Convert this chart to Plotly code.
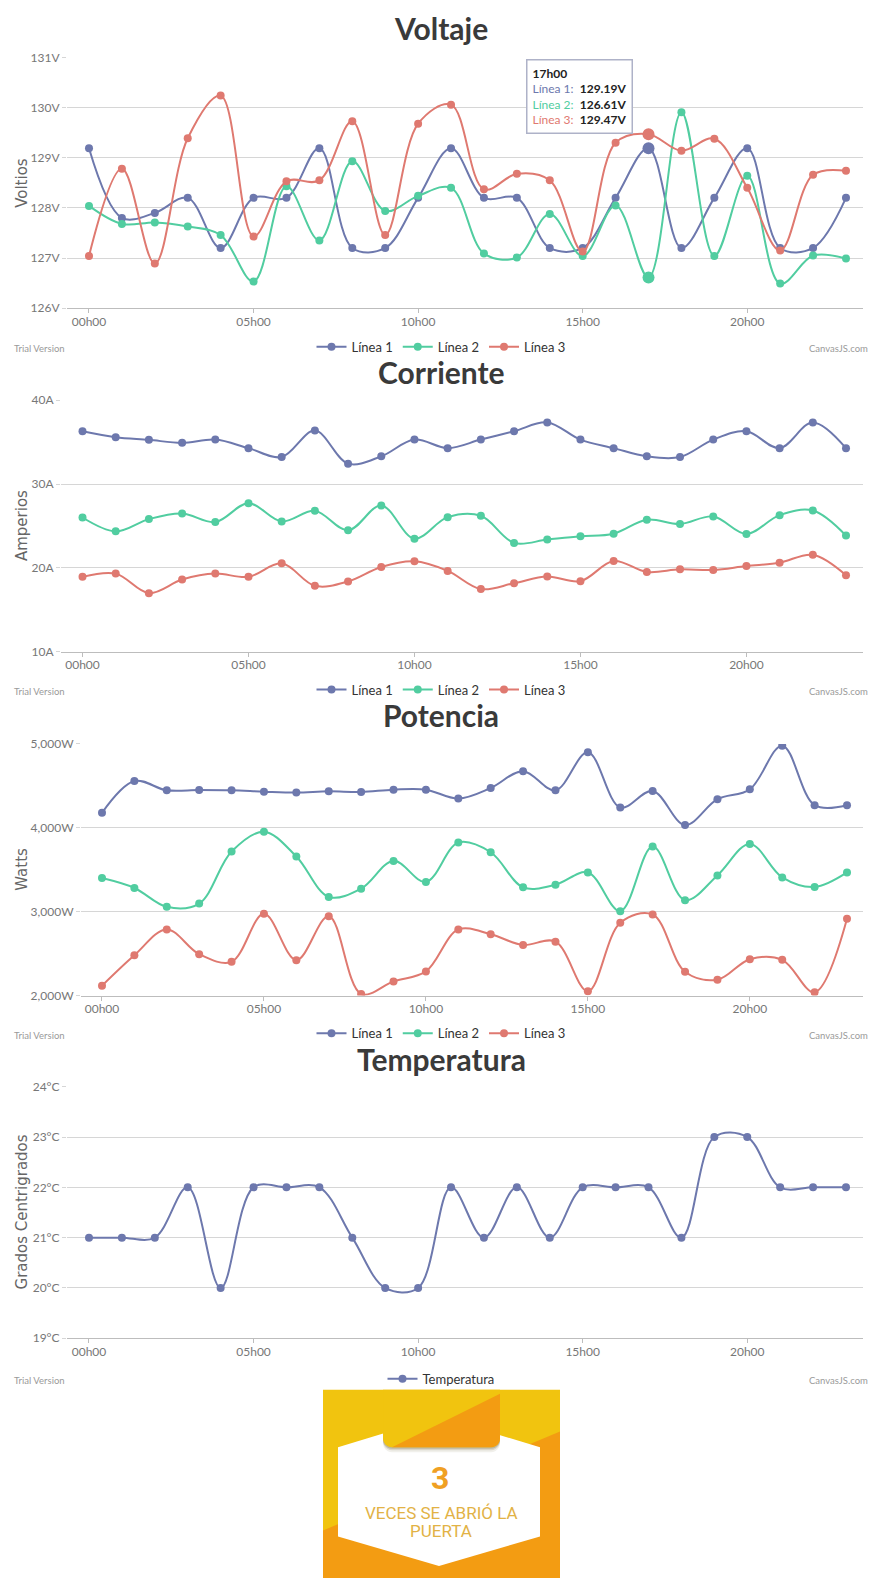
import math
import plotly.graph_objects as go

W, H = 874, 1585

# ---------------- data ----------------
HOURS = list(range(24))
TICK_HOURS = [0, 5, 10, 15, 20]
TICK_LABELS = ["00h00", "05h00", "10h00", "15h00", "20h00"]
SERIES_NAMES = ["Línea 1", "Línea 2", "Línea 3"]
COLORS = ["#6D78AD", "#51CDA0", "#DF7970"]

volt_l1 = [129.19, 127.8, 127.9, 128.2, 127.2, 128.2, 128.2, 129.19, 127.2, 127.2, 128.2, 129.19,
           128.2, 128.2, 127.2, 127.2, 128.2, 129.19, 127.2, 128.2, 129.19, 127.2, 127.2, 128.2]
volt_l2 = [128.04, 127.68, 127.71, 127.63, 127.46, 126.53, 128.43, 127.35, 128.93, 127.94, 128.24, 128.40,
           127.09, 127.01, 127.88, 127.04, 128.05, 126.61, 129.91, 127.04, 128.64, 126.49, 127.05, 126.99]
volt_l3 = [127.04, 128.78, 126.89, 129.39, 130.24, 127.43, 128.53, 128.55, 129.73, 127.46, 129.68, 130.06,
           128.37, 128.68, 128.55, 127.13, 129.30, 129.47, 129.14, 129.38, 128.40, 127.15, 128.66, 128.74]

curr_l1 = [36.3, 35.59, 35.28, 34.92, 35.31, 34.29, 33.23, 36.38, 32.44, 33.31, 35.31, 34.29,
           35.31, 36.3, 37.36, 35.31, 34.29, 33.31, 33.23, 35.31, 36.3, 34.29, 37.36, 34.29]
curr_l2 = [26.02, 24.37, 25.83, 26.5, 25.47, 27.72, 25.55, 26.81, 24.49, 27.44, 23.5, 26.06,
           26.22, 22.99, 23.39, 23.78, 24.09, 25.75, 25.24, 26.14, 24.06, 26.3, 26.85, 23.86]
curr_l3 = [18.94, 19.33, 17.0, 18.62, 19.33, 18.94, 20.55, 17.87, 18.39, 20.12, 20.79, 19.65,
           17.48, 18.19, 18.98, 18.43, 20.83, 19.53, 19.84, 19.76, 20.24, 20.63, 21.57, 19.13]

pot_l1 = [4179, 4558, 4447, 4451, 4447, 4431, 4420, 4435, 4428, 4455, 4455, 4349,
          4475, 4676, 4447, 4901, 4242, 4439, 4033, 4341, 4459, 4980, 4270, 4270]
pot_l2 = [3401, 3283, 3058, 3097, 3717, 3954, 3658, 3176, 3275, 3606, 3354, 3824,
          3709, 3291, 3322, 3468, 3006, 3776, 3137, 3433, 3808, 3409, 3295, 3468]
pot_l3 = [2118, 2481, 2789, 2493, 2402, 2975, 2422, 2947, 2019, 2169, 2288, 2789,
          2730, 2604, 2643, 2051, 2868, 2967, 2284, 2189, 2434, 2426, 2039, 2916]

temp = [21, 21, 21, 22, 20, 22, 22, 22, 21, 20, 20, 22, 21, 22, 21, 22, 22, 22, 21, 23, 23, 22, 22, 22]

HOVER_IDX = 17
DOOR_COUNT = 3
DOOR_TEXT = ["VECES SE ABRIÓ LA", "PUERTA"]


def px(x):
    return x / W


def py(y):
    return 1 - y / H


GRID = "#D6D6D6"
TICKFONT = dict(family="Lato", size=12, color="#777777")

charts = [
    dict(title="Voltaje", ytitle="Voltios", top=50, bottom=303, left=67, right=863,
         xr=[-0.668, 23.517], yr=[126, 131], dtick=1, suffix="V", fmt="",
         series=[volt_l1, volt_l2, volt_l3], names=SERIES_NAMES, title_y=20, legend_y=342),
    dict(title="Corriente", ytitle="Amperios", top=396, bottom=650, left=61, right=863,
         xr=[-0.648, 23.512], yr=[10, 40], dtick=10, suffix="A", fmt="",
         series=[curr_l1, curr_l2, curr_l3], names=SERIES_NAMES, title_y=367, legend_y=688),
    dict(title="Potencia", ytitle="Watts", top=743, bottom=997, left=81, right=863,
         xr=[-0.648, 23.494], yr=[2000, 5000], dtick=1000, suffix="W", fmt=",.0f",
         series=[pot_l1, pot_l2, pot_l3], names=SERIES_NAMES, title_y=714, legend_y=1035),
    dict(title="Temperatura", ytitle="Grados Centrigrados", top=1089, bottom=1343, left=67, right=863,
         xr=[-0.668, 23.517], yr=[19, 24], dtick=1, suffix="°C", fmt="",
         series=[temp], names=["Temperatura"], title_y=1061, legend_y=1384),
]

fig = go.Figure()
annotations = []
layout = {}

for ci, ch in enumerate(charts):
    n = ci + 1
    xa = "x" if n == 1 else f"x{n}"
    ya = "y" if n == 1 else f"y{n}"
    xkey = "xaxis" if n == 1 else f"xaxis{n}"
    ykey = "yaxis" if n == 1 else f"yaxis{n}"
    lkey = "legend" if n == 1 else f"legend{n}"

    layout[xkey] = dict(
        domain=[px(ch["left"]), px(ch["right"])], range=ch["xr"], anchor=ya,
        tickvals=TICK_HOURS, ticktext=TICK_LABELS, showgrid=False, zeroline=False,
        showline=True, linecolor="#BDBDBD", linewidth=1,
        ticks="outside", ticklen=4, tickcolor="#BDBDBD", tickfont=TICKFONT, fixedrange=True,
        ticklabelstandoff=-2,
    )
    layout[ykey] = dict(
        domain=[py(ch["bottom"]), py(ch["top"])], range=ch["yr"], anchor=xa,
        dtick=ch["dtick"], tick0=ch["yr"][0], ticksuffix=ch["suffix"], tickformat=ch["fmt"],
        showgrid=True, gridcolor=GRID, gridwidth=1, zeroline=False, showline=False,
        ticks="outside", ticklen=4, tickcolor=GRID, tickfont=TICKFONT, fixedrange=True,
    )
    layout[lkey] = dict(
        orientation="h", x=px(441), xanchor="center", y=py(ch["legend_y"]), yanchor="middle",
        font=dict(family="Lato", size=13, color="#333333"), itemwidth=30,
        bgcolor="rgba(0,0,0,0)", borderwidth=0,
    )

    for si, vals in enumerate(ch["series"]):
        fig.add_trace(go.Scatter(
            x=HOURS, y=vals, name=ch["names"][si], mode="lines+markers",
            line=dict(color=COLORS[si], width=2, shape="spline", smoothing=1),
            marker=dict(color=COLORS[si], size=8, line=dict(width=0)),
            xaxis=xa, yaxis=ya, legend=lkey, hoverinfo="skip",
        ))

    annotations.append(dict(
        text=f"<b>{ch['title']}</b>", x=px(441), y=py(ch["title_y"]), xref="paper", yref="paper",
        xanchor="center", yanchor="middle", showarrow=False,
        font=dict(family="Lato", size=30, color="#3A3A3A"),
    ))
    annotations.append(dict(
        text=ch["ytitle"], x=px(22), y=py((ch["top"] + ch["bottom"]) / 2), xref="paper", yref="paper",
        xanchor="center", yanchor="middle", showarrow=False, textangle=-90,
        font=dict(family="DejaVu Sans", size=15, color="#666666"),
    ))
    annotations.append(dict(
        text="Trial Version", x=px(12), y=py(ch["legend_y"] + 2), xref="paper", yref="paper",
        xanchor="left", yanchor="middle", showarrow=False,
        font=dict(family="Lato", size=9.5, color="#9A9A9A"),
    ))
    annotations.append(dict(
        text="CanvasJS.com", x=px(870), y=py(ch["legend_y"] + 2), xref="paper", yref="paper",
        xanchor="right", yanchor="middle", showarrow=False,
        font=dict(family="Lato", size=9.5, color="#9A9A9A"),
    ))

# highlighted (hovered) markers at 17h00 in the voltage chart
for si, vals in enumerate(charts[0]["series"]):
    fig.add_trace(go.Scatter(
        x=[HOURS[HOVER_IDX]], y=[vals[HOVER_IDX]], mode="markers", showlegend=False,
        marker=dict(color=COLORS[si], size=12, line=dict(width=0)),
        xaxis="x", yaxis="y", hoverinfo="skip",
    ))

# tooltip
tip_lines = [f"<b>{HOURS[HOVER_IDX]:02d}h00</b>"]
for si, vals in enumerate(charts[0]["series"]):
    tip_lines.append(
        f"<span style='color:{COLORS[si]}'>{SERIES_NAMES[si]}:</span>\u00a0\u00a0<b>{vals[HOVER_IDX]:.2f}V</b>"
    )
annotations.append(dict(
    text="<br>".join(tip_lines), x=px(526), y=py(51), xref="paper", yref="paper",
    xanchor="left", yanchor="top", align="left", showarrow=False,
    font=dict(family="Lato", size=12, color="#222222"),
    bgcolor="rgba(255,255,255,0.95)", bordercolor="#AEB2C8", borderwidth=1.5, borderpad=5,
))

# ---------------- badge ----------------
YEL = "#F1C40F"
ORA = "#F39C12"


def path(points, close=True):
    s = "M " + " L ".join(f"{px(x):.5f} {py(y):.5f}" for x, y in points)
    return s + (" Z" if close else "")


def arc(cx, cy, r, a0, a1, steps=6):
    return [(cx + r * math.cos(math.radians(a0 + (a1 - a0) * k / steps)),
             cy + r * math.sin(math.radians(a0 + (a1 - a0) * k / steps))) for k in range(steps + 1)]


def tab_points(x0, x1, y0, y1, r, dy=0):
    y0 += dy
    y1 += dy
    pts = [(x0, y0), (x1, y0)]
    pts += arc(x1 - r, y1 - r, r, 0, 90)      # bottom-right corner
    pts += arc(x0 + r, y1 - r, r, 90, 180)    # bottom-left corner
    return pts


shapes = []
shapes.append(dict(type="rect", xref="paper", yref="paper", x0=px(323), x1=px(560), y0=py(1585), y1=py(1395),
                   fillcolor=YEL, line=dict(width=0), layer="above"))
shapes.append(dict(type="path", xref="paper", yref="paper",
                   path=path([(323, 1537), (560, 1437), (560, 1585), (323, 1585)]),
                   fillcolor=ORA, line=dict(width=0), layer="above"))
shapes.append(dict(type="path", xref="paper", yref="paper",
                   path=path([(338, 1453), (439, 1422), (540, 1453), (540, 1543), (439, 1573), (338, 1543)]),
                   fillcolor="#FFFFFF", line=dict(width=0), layer="above"))
for dy, alpha in [(5, 0.08), (3, 0.14), (1.5, 0.2)]:
    shapes.append(dict(type="path", xref="paper", yref="paper", path=path(tab_points(383, 500, 1395, 1453, 9, dy)),
                       fillcolor=f"rgba(80,60,0,{alpha})", line=dict(width=0), layer="above"))
shapes.append(dict(type="path", xref="paper", yref="paper", path=path(tab_points(383, 500, 1395, 1453, 9)),
                   fillcolor=YEL, line=dict(width=0), layer="above"))
tab_orange = [(392, 1453), (500, 1399)] + arc(491, 1444, 9, 0, 90)
shapes.append(dict(type="path", xref="paper", yref="paper", path=path(tab_orange),
                   fillcolor=ORA, line=dict(width=0), layer="above"))

annotations.append(dict(
    text=f"<b>{DOOR_COUNT}</b>", x=px(440), y=py(1484), xref="paper", yref="paper",
    xanchor="center", yanchor="middle", showarrow=False,
    font=dict(family="Roboto", size=32, color="#F0A023"),
))
for txt, yy in zip(DOOR_TEXT, [1519, 1538]):
    annotations.append(dict(
        text=txt, x=px(441), y=py(yy), xref="paper", yref="paper",
        xanchor="center", yanchor="middle", showarrow=False,
        font=dict(family="Roboto", size=17, color="#E2B245"),
    ))

fig.update_layout(
    width=W, height=H, margin=dict(l=0, r=0, t=0, b=0),
    paper_bgcolor="white", plot_bgcolor="white",
    showlegend=True, annotations=annotations, shapes=shapes,
    hovermode=False, **layout,
)

fig.write_html("out.html", config={"displayModeBar": False},
               post_script="document.body.style.margin='0';document.body.style.overflow='hidden';")
